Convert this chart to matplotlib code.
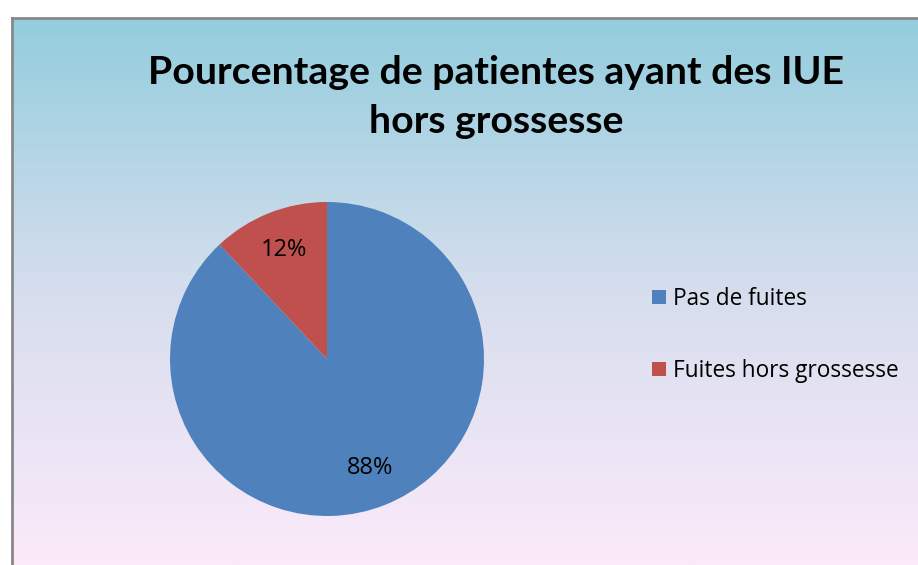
import numpy as np
import matplotlib
matplotlib.use("Agg")
import matplotlib.pyplot as plt
from matplotlib.patches import Patch

labels = ["Pas de fuites", "Fuites hors grossesse"]
values = [88, 12]
colors = ["#4F81BD", "#C0504D"]
title_lines = ["Pourcentage de patientes ayant des IUE", "hors grossesse"]

W, H = 918, 565
fig = plt.figure(figsize=(W / 100, H / 100), dpi=100)
fig.patch.set_facecolor("white")

# background gradient panel with gray border on top/left
bg = fig.add_axes([12 / W, 0, (W - 12) / W, (H - 18) / H])
top = np.array([147, 205, 221]) / 255
mid = np.array([214, 222, 238]) / 255
bot = np.array([252, 234, 250]) / 255
n = 256
t = np.linspace(0, 1, n)[:, None]
grad = np.where(t < 0.5, top + (mid - top) * (t / 0.5), mid + (bot - mid) * ((t - 0.5) / 0.5))
bg.imshow(grad[:, None, :].repeat(2, axis=1), aspect="auto", extent=[0, 1, 0, 1], origin="upper")
bg.set_xlim(0, 1)
bg.set_ylim(0, 1)
bg.set_xticks([])
bg.set_yticks([])
for s in ["right", "bottom"]:
    bg.spines[s].set_visible(False)
for s in ["left", "top"]:
    bg.spines[s].set_color("#888888")
    bg.spines[s].set_linewidth(2)

# pie
cx, cy, r = 327, 359, 157
ax = fig.add_axes([(cx - r) / W, (H - cy - r) / H, 2 * r / W, 2 * r / H])
ax.set_facecolor("none")
wedges, texts, autotexts = ax.pie(
    values, colors=colors, startangle=90, counterclock=False,
    autopct=lambda p: f"{p:.0f}%", pctdistance=0.75,
    textprops=dict(fontsize=17, color="black", family="Open Sans"),
    wedgeprops=dict(linewidth=0),
)
ax.set_xlim(-1, 1)
ax.set_ylim(-1, 1)
ax.axis("off")

# title
fig.text(496 / W, 1 - 72 / H, title_lines[0], ha="center", va="center",
         fontsize=28.3, fontweight="bold", family="Lato")
fig.text(496 / W, 1 - 121 / H, title_lines[1], ha="center", va="center",
         fontsize=28.3, fontweight="bold", family="Lato")

# legend
handles = [Patch(facecolor=c, edgecolor="none") for c in colors]
fig.legend(handles, labels, loc="center left", bbox_to_anchor=(632 / W, 1 - 335 / H),
           frameon=False, handlelength=0.6, handleheight=0.6,
           handletextpad=0.3, labelspacing=2.14, prop=dict(family="Open Sans", size=16.3))

fig.savefig("out.png", dpi=100)
